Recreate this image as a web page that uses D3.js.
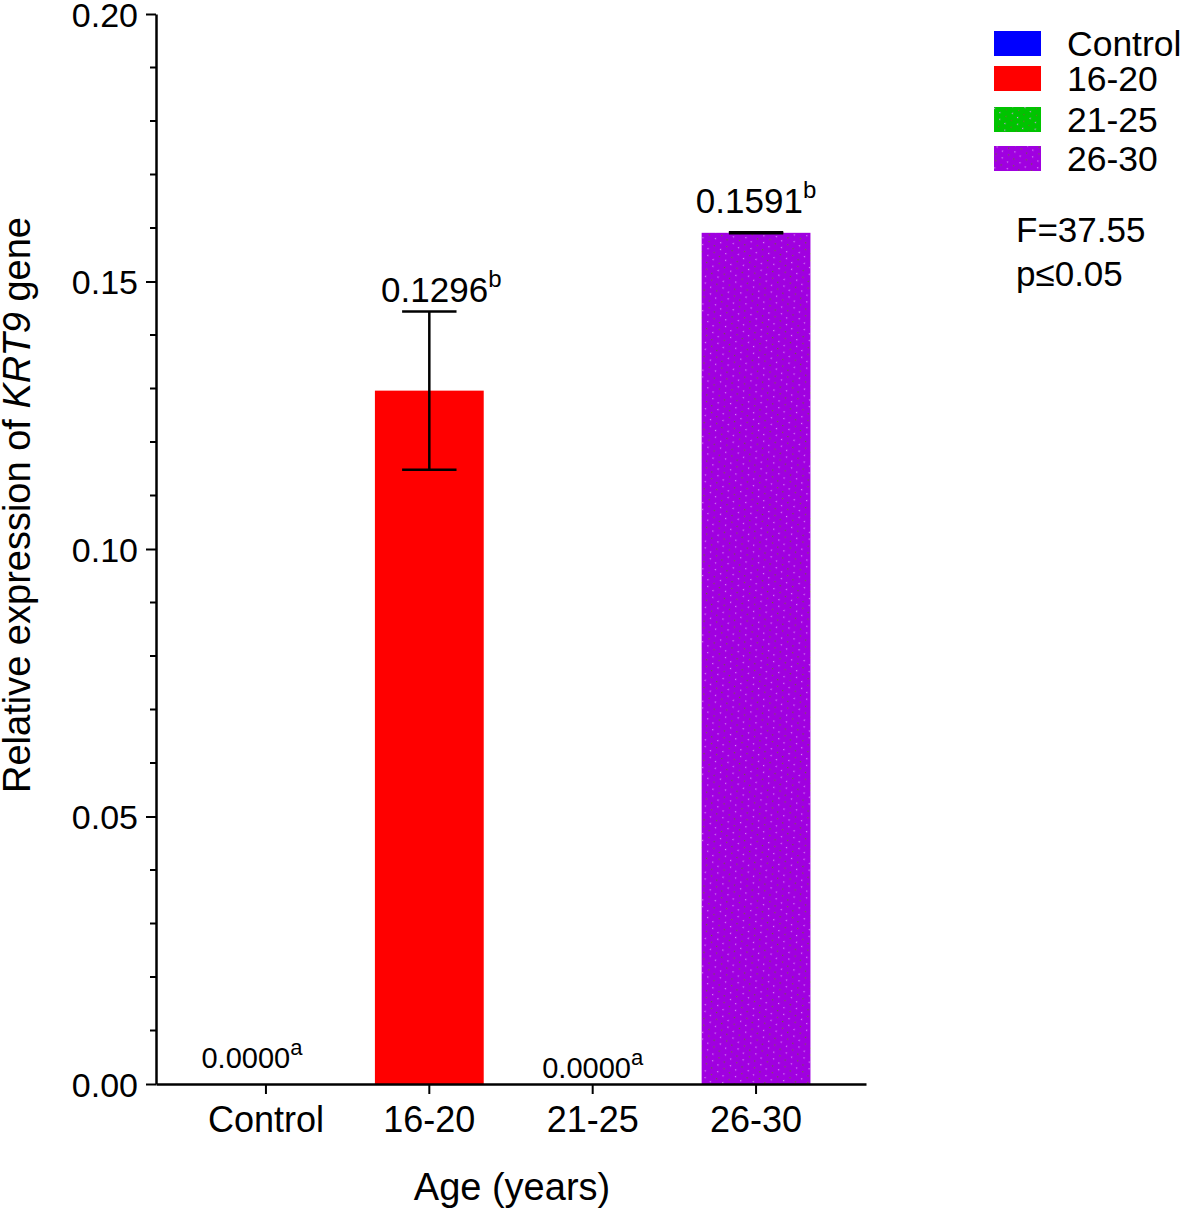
<!DOCTYPE html>
<html>
<head>
<meta charset="utf-8">
<script src="https://cdn.jsdelivr.net/npm/d3@7"></script>
<style>
  body { margin: 0; background: #fff; }
  svg { display: block; font-family: "Liberation Sans", Arial, sans-serif; }
</style>
</head>
<body>
<svg id="vis" width="1181" height="1209"></svg>
<script>
// data
const groups = ["Control", "16-20", "21-25", "26-30"];
const means = [0.0, 0.1296, 0.0, 0.1591];
const errors = [0.0, 0.0148, 0.0, 0.0001];
const meanLabels = ["0.0000", "0.1296", "0.0000", "0.1591"];
const letters = ["a", "b", "a", "b"];
const yTicks = [0.00, 0.05, 0.10, 0.15, 0.20];
const colors = ["#0000ff", "#ff0000", "#00c400", "#a000e0"];
const statLines = ["F=37.55", "p\u22640.05"];

const svg = d3.select("#vis");
const margin = { top: 14, left: 156 };

// speckle patterns for the textured fills
const defs = svg.append("defs");
function speckle(id, base) {
  const p = defs.append("pattern")
    .attr("id", id)
    .attr("patternUnits", "userSpaceOnUse")
    .attr("width", 14).attr("height", 12)
    .attr("patternTransform", "rotate(-25)");
  p.append("rect").attr("width", 14).attr("height", 12).attr("fill", base);
  [[1, 2, "#d890f0"], [8, 2, "#7a6a3a"], [4, 8, "#d890f0"], [11, 8, "#6a6a2a"]]
    .forEach(([x, y, c]) => p.append("rect").attr("x", x).attr("y", y).attr("width", 1.2).attr("height", 1.2).attr("fill", c));
}
speckle("pGreen", colors[2]);
speckle("pPurple", colors[3]);
const fills = [colors[0], colors[1], "url(#pGreen)", "url(#pPurple)"];

const x = d3.scaleBand()
  .domain(groups)
  .range([margin.left, 866])
  .paddingInner(0.334)
  .paddingOuter(0.34);

const y = d3.scaleLinear()
  .domain([0, 0.20])
  .range([1084, margin.top]);

// bars
svg.append("g").selectAll("rect")
  .data(groups)
  .join("rect")
  .attr("x", d => x(d))
  .attr("width", x.bandwidth())
  .attr("y", (d, i) => y(means[i]))
  .attr("height", (d, i) => y(0) - y(means[i]))
  .attr("fill", (d, i) => fills[i]);

// error bars
const eb = svg.append("g").attr("stroke", "#000").attr("stroke-width", 2.5);
groups.forEach((g, i) => {
  if (errors[i] <= 0) return;
  const cx = x(g) + x.bandwidth() / 2;
  const cap = x.bandwidth() / 4;
  eb.append("line").attr("x1", cx).attr("x2", cx)
    .attr("y1", y(means[i] + errors[i])).attr("y2", y(means[i] - errors[i]));
  [means[i] + errors[i], means[i] - errors[i]].forEach(v => {
    eb.append("line").attr("x1", cx - cap).attr("x2", cx + cap)
      .attr("y1", y(v)).attr("y2", y(v));
  });
});

// value labels with superscript letters (label nudges as placed in the figure)
const nudgeX = [-14, 12, 0, 0];
const nudgeY = [-16, -9, -6, -19];
groups.forEach((g, i) => {
  const cx = x(g) + x.bandwidth() / 2 + nudgeX[i];
  const zero = means[i] === 0;
  const t = svg.append("text")
    .attr("x", cx)
    .attr("y", y(means[i] + errors[i]) + nudgeY[i])
    .attr("text-anchor", "middle")
    .attr("font-size", zero ? 29 : 35);
  t.append("tspan").text(meanLabels[i]);
  t.append("tspan").attr("dy", zero ? -13 : -15).attr("font-size", zero ? 22 : 24).text(letters[i]);
});

// y axis
const yAxis = svg.append("g")
  .attr("transform", `translate(${margin.left},0)`)
  .call(d3.axisLeft(y).tickValues(yTicks).tickFormat(d3.format(".2f")).tickSize(10).tickSizeOuter(0));
yAxis.append("g").selectAll("line")
  .data(d3.range(1, 20).filter(k => k % 5 !== 0).map(k => k / 100))
  .join("line")
  .attr("x1", 0).attr("x2", -6)
  .attr("y1", d => y(d)).attr("y2", d => y(d))
  .attr("stroke", "#000").attr("stroke-width", 2);
yAxis.selectAll(".domain").attr("stroke-width", 2.5);
yAxis.selectAll(".tick line").attr("stroke-width", 2);
yAxis.selectAll(".tick text").attr("font-size", 34).attr("fill", "#000").attr("x", -18).attr("dy", "0.36em");

// x axis
const xAxis = svg.append("g")
  .attr("transform", `translate(0,${y(0)})`)
  .call(d3.axisBottom(x).tickSize(10).tickSizeOuter(0));
xAxis.selectAll(".domain").attr("stroke-width", 2.5);
xAxis.selectAll(".tick line").attr("stroke-width", 2);
xAxis.selectAll(".tick text").attr("font-size", 36).attr("fill", "#000").attr("y", 22).attr("dy", "0.71em");

// axis titles
svg.append("text")
  .attr("x", 512).attr("y", 1200)
  .attr("text-anchor", "middle")
  .attr("font-size", 38)
  .text("Age (years)");

const yt = svg.append("text")
  .attr("transform", `translate(30,505) rotate(-90)`)
  .attr("text-anchor", "middle")
  .attr("font-size", 38);
yt.append("tspan").text("Relative expression of ");
yt.append("tspan").attr("font-style", "italic").text("KRT9");
yt.append("tspan").text(" gene");

// legend
const legendY = [43, 78, 119, 158];
const lg = svg.append("g");
groups.forEach((g, i) => {
  lg.append("rect").attr("x", 994).attr("y", legendY[i] - 12)
    .attr("width", 47).attr("height", 25).attr("fill", fills[i]);
  lg.append("text").attr("x", 1067).attr("y", legendY[i]).attr("dy", "0.36em")
    .attr("font-size", 35.5).text(g);
});

// statistics note
statLines.forEach((s, i) => {
  svg.append("text").attr("x", 1016).attr("y", 242 + i * 44)
    .attr("font-size", 35).text(s);
});
</script>
</body>
</html>
